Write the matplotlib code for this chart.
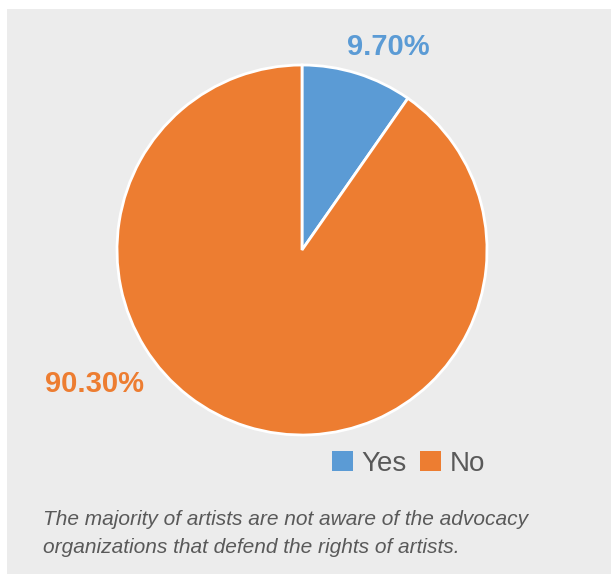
import matplotlib.pyplot as plt
from matplotlib.patches import Rectangle, Patch

# survey answers
labels = ["Yes", "No"]
shares = [9.70, 90.30]
colors = ["#5b9bd5", "#ed7d31"]
caption_lines = ["The majority of artists are not aware of the advocacy",
                 "organizations that defend the rights of artists."]

W, H = 611, 574
fig = plt.figure(figsize=(W / 100, H / 100), dpi=100, facecolor="white")

# grey panel behind everything
fig.patches.append(Rectangle((7 / W, 0), 1 - 7 / W, (H - 9) / H,
                             transform=fig.transFigure, facecolor="#ececec",
                             edgecolor="none", zorder=-10))

cx, cy, r = 302, 250, 185
ax = fig.add_axes([(cx - r) / W, (H - cy - r) / H, 2 * r / W, 2 * r / H])
ax.set_zorder(1)
ax.set_facecolor("none")
wedges, _ = ax.pie(shares, colors=colors, startangle=90, counterclock=False,
                   radius=1.0, wedgeprops=dict(edgecolor="white", linewidth=2))
ax.set_xlim(-1, 1)
ax.set_ylim(-1, 1)
ax.set_aspect("equal")
ax.axis("off")

# value labels outside the pie
label_pos = [(0.465, 1.095), (-1.122, -0.724)]
for val, col, (x, y) in zip(shares, colors, label_pos):
    ax.text(x, y, f"{val:.2f}%", color=col, fontsize=21, fontweight="bold",
            family="Liberation Sans", ha="center", va="center", clip_on=False)

handles = [Patch(facecolor=c, edgecolor="none") for c in colors]
leg = fig.legend(handles, labels, loc="upper left",
                 bbox_to_anchor=(332 / W, 1 - 451 / H), ncol=2, frameon=False,
                 prop={"family": "Liberation Sans", "size": 20},
                 handlelength=0.75, handleheight=0.75, handletextpad=0.3,
                 columnspacing=0.5, borderpad=0, borderaxespad=0)
leg.set_zorder(2)
for t in leg.get_texts():
    t.set_color("#595959")

for i, line in enumerate(caption_lines):
    fig.text(43 / W, 1 - (525 + 28 * i) / H, line, color="#595959",
             fontsize=15, style="italic", family="Liberation Sans",
             va="baseline", ha="left", zorder=2)

fig.savefig("out.png", dpi=100, facecolor=fig.get_facecolor())
